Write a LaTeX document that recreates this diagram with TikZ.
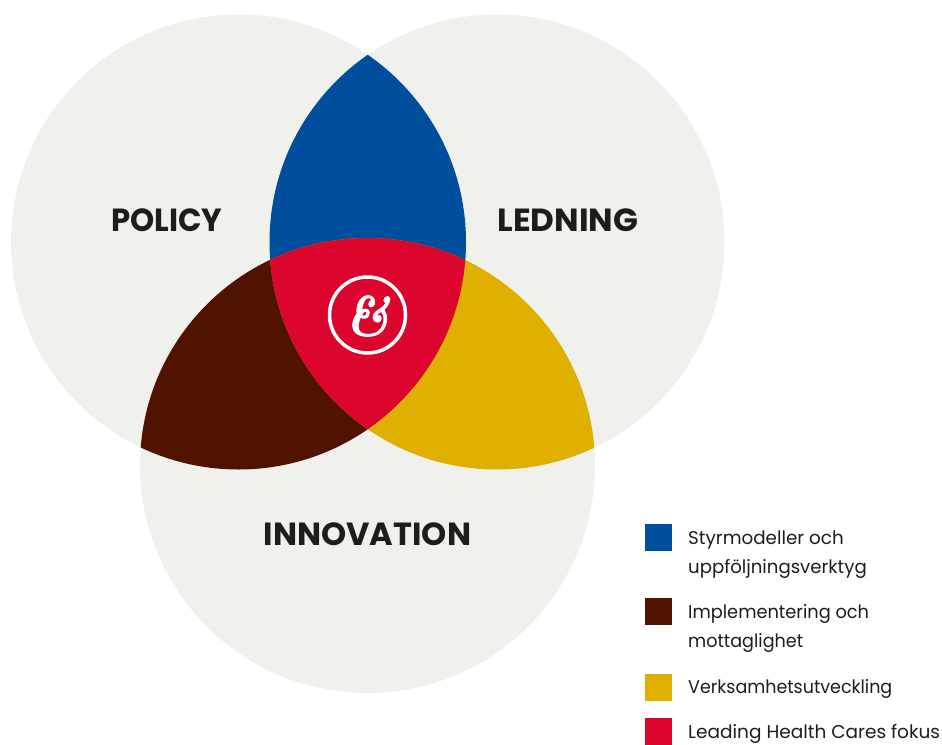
\documentclass[tikz,border=0pt]{standalone}
\usepackage{fontspec}
\newfontfamily\popSemi{Poppins Bold}
\newfontfamily\popLight{Poppins}
\newfontfamily\ampf[Extension=.otf,FakeBold=1.6]{lmroman10-bolditalic}
\definecolor{cGrey}{HTML}{F0F0EC}
\definecolor{cBlue}{HTML}{004F9F}
\definecolor{cBrown}{HTML}{4F1300}
\definecolor{cGold}{HTML}{E0B000}
\definecolor{cRed}{HTML}{DC052D}
\definecolor{cText}{HTML}{1D1D1B}
\newcommand{\circL}{(238.5,242) circle (227.5)}
\newcommand{\circR}{(497,242) circle (227.5)}
\newcommand{\circB}{(367.5,465.5) circle (227.5)}
\newcommand{\sx}[2]{\scalebox{#1}[1]{#2}}
\tikzset{
  title/.style={font=\fontsize{32}{32}\selectfont\popSemi,text=cText,inner sep=0pt,anchor=center},
  legend/.style={font=\fontsize{18.5}{29.5}\selectfont\popLight,text=cText,inner sep=0pt,anchor=west,align=left},
  swatch/.style={minimum size=27pt,inner sep=0pt,draw=none,anchor=center}
}
\begin{document}
\begin{tikzpicture}[x=1pt,y=-1pt]
\useasboundingbox (0,0) rectangle (942,744);
\fill[cGrey] \circL;
\fill[cGrey] \circR;
\fill[cGrey] \circB;
\begin{scope}\clip \circL; \fill[cBlue] \circR; \end{scope}
\begin{scope}\clip \circL; \fill[cBrown] \circB; \end{scope}
\begin{scope}\clip \circR; \fill[cGold] \circB; \end{scope}
\begin{scope}\clip \circL; \clip \circR; \fill[cRed] \circB; \end{scope}
\node[circle,draw=white,line width=3.5pt,minimum size=76pt,inner sep=0pt] (ring) at (367.5,315) {};
\node[text=white,inner sep=0pt,font=\fontsize{56}{60}\selectfont\ampf] (amp) at (367.5,316) {\sx{.88}{\&}};
\node[title] (policy) at (167,220) {\sx{.96}{POLICY}};
\node[title] (ledning) at (568,220) {\sx{1.02}{LEDNING}};
\node[title] (innovation) at (367.5,534) {\sx{1.0}{INNOVATION}};
\node[swatch,fill=cBlue] (s1) at (658.5,537.5) {};
\node[swatch,fill=cBrown] (s2) at (658.5,611.5) {};
\node[swatch,fill=cGold] (s3) at (658.5,687.5) {};
\node[swatch,fill=cRed] (s4) at (658.5,731.5) {};
\node[legend] (l1) at (688,554.5) {\sx{.99}{Styrmodeller och}\\\sx{.98}{uppföljningsverktyg}};
\node[legend] (l2) at (688,628.5) {\sx{.96}{Implementering och}\\\sx{.95}{mottaglighet}};
\node[legend] (l3) at (688,689) {\sx{.945}{Verksamhetsutveckling}};
\node[legend] (l4) at (688,734) {\sx{1.0}{Leading Health Cares fokus}};
\end{tikzpicture}
\end{document}
